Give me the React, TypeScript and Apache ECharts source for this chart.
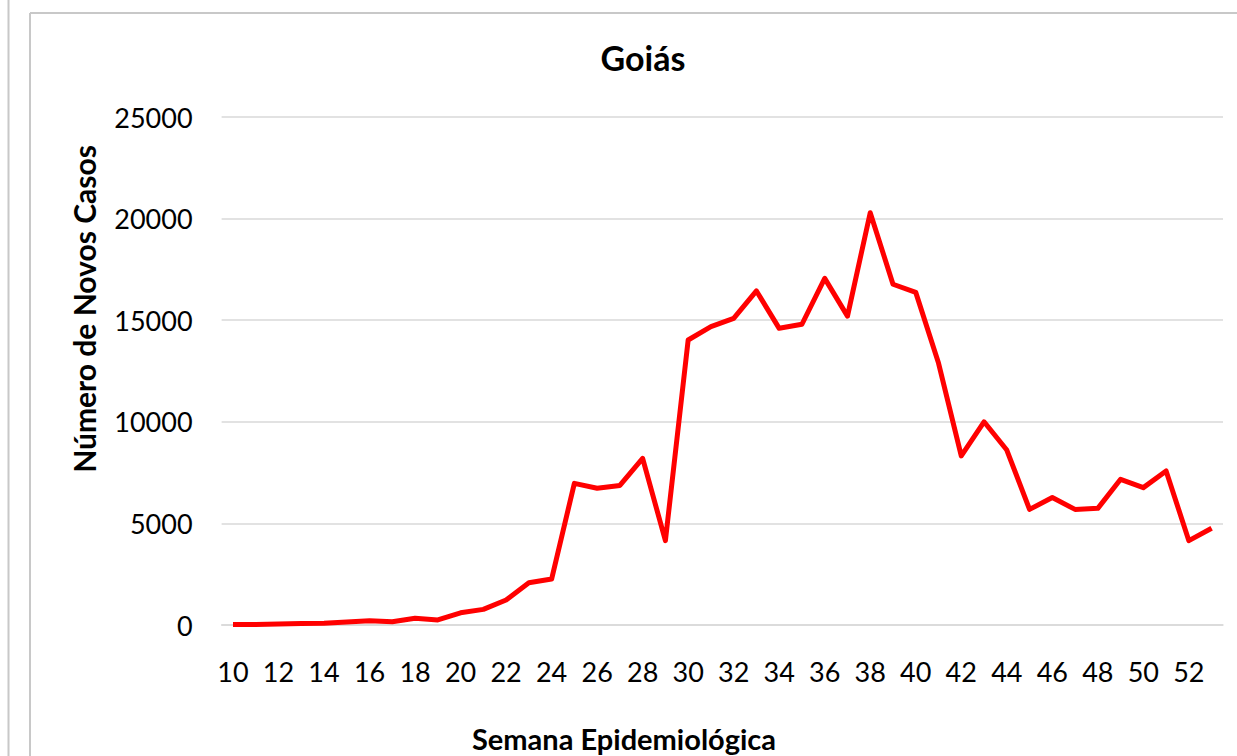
import React, { useEffect, useRef } from "react";
import * as echarts from "echarts";

const weeks: string[] = [
  "10", "11", "12", "13", "14", "15", "16", "17", "18", "19", "20",
  "21", "22", "23", "24", "25", "26", "27", "28", "29", "30", "31",
  "32", "33", "34", "35", "36", "37", "38", "39", "40", "41", "42",
  "43", "44", "45", "46", "47", "48", "49", "50", "51", "52", "53",
];

const newCases: number[] = [
  30, 30, 50, 70, 90, 150, 210, 160, 330, 250, 600,
  770, 1230, 2080, 2260, 6970, 6730, 6870, 8200, 4150, 14025, 14680,
  15090, 16440, 14600, 14800, 17060, 15200, 20290, 16770, 16370, 12890, 8320,
  10000, 8610, 5690, 6270, 5690, 5740, 7170, 6760, 7580, 4150, 4760,
];

const yTicks: number[] = [0, 5000, 10000, 15000, 20000, 25000];

const titleText = "Goiás";
const yName = "Número de Novos Casos";
const xName = "Semana Epidemiológica";

const FONT = "Lato, 'Open Sans', sans-serif";

export default function App() {
  const ref = useRef<HTMLDivElement>(null);
  useEffect(() => {
    if (!ref.current) return;
    const chart = echarts.init(ref.current, null, { renderer: "svg" });
    chart.setOption({
      animation: false,
      backgroundColor: "#ffffff",
      graphic: [
        { type: "line", shape: { x1: 8.5, y1: 0, x2: 8.5, y2: 756 }, style: { stroke: "#c8c8c8", lineWidth: 2 } },
        { type: "line", shape: { x1: 30, y1: 13, x2: 30, y2: 756 }, style: { stroke: "#c8c8c8", lineWidth: 2 } },
        { type: "line", shape: { x1: 30, y1: 13, x2: 1237, y2: 13 }, style: { stroke: "#c8c8c8", lineWidth: 2 } },
        {
          type: "text",
          x: 643,
          y: 57,
          style: {
            text: titleText,
            fontFamily: FONT,
            fontWeight: "bold",
            fontSize: 34,
            fill: "#000000",
            textAlign: "center",
            textVerticalAlign: "middle",
          },
        },
        {
          type: "text",
          x: 84,
          y: 309,
          rotation: Math.PI / 2,
          style: {
            text: yName,
            fontFamily: FONT,
            fontWeight: "bold",
            fontSize: 30,
            fill: "#000000",
            textAlign: "center",
            textVerticalAlign: "middle",
          },
        },
        {
          type: "text",
          x: 624,
          y: 738,
          style: {
            text: xName,
            fontFamily: FONT,
            fontWeight: "bold",
            fontSize: 29,
            fill: "#000000",
            textAlign: "center",
            textVerticalAlign: "middle",
          },
        },
      ],
      grid: { left: 221.6, right: 14, top: 117, bottom: 131, containLabel: false },
      xAxis: {
        type: "category",
        data: weeks,
        boundaryGap: true,
        axisLine: { show: true, lineStyle: { color: "#d9d9d9", width: 1.5 } },
        axisTick: { show: false },
        axisLabel: {
          interval: 1,
          margin: 33,
          fontFamily: FONT,
          fontSize: 27,
          color: "#000000",
        },
      },
      yAxis: {
        type: "value",
        min: yTicks[0],
        max: yTicks[yTicks.length - 1],
        interval: 5000,
        axisLine: { show: false },
        axisTick: { show: false },
        splitLine: { show: true, lineStyle: { color: "#d9d9d9", width: 1.5 } },
        axisLabel: {
          margin: 29,
          fontFamily: FONT,
          fontSize: 27,
          color: "#000000",
          formatter: (v: number) => String(v),
        },
      },
      series: [
        {
          type: "line",
          data: newCases,
          symbol: "none",
          lineStyle: { color: "#ff0000", width: 5, join: "round" },
          itemStyle: { color: "#ff0000" },
        },
      ],
    });
    return () => chart.dispose();
  }, []);
  return (
    <div
      ref={ref}
      style={{ position: "fixed", left: 0, top: 0, width: 1237, height: 756, background: "#ffffff" }}
    />
  );
}
